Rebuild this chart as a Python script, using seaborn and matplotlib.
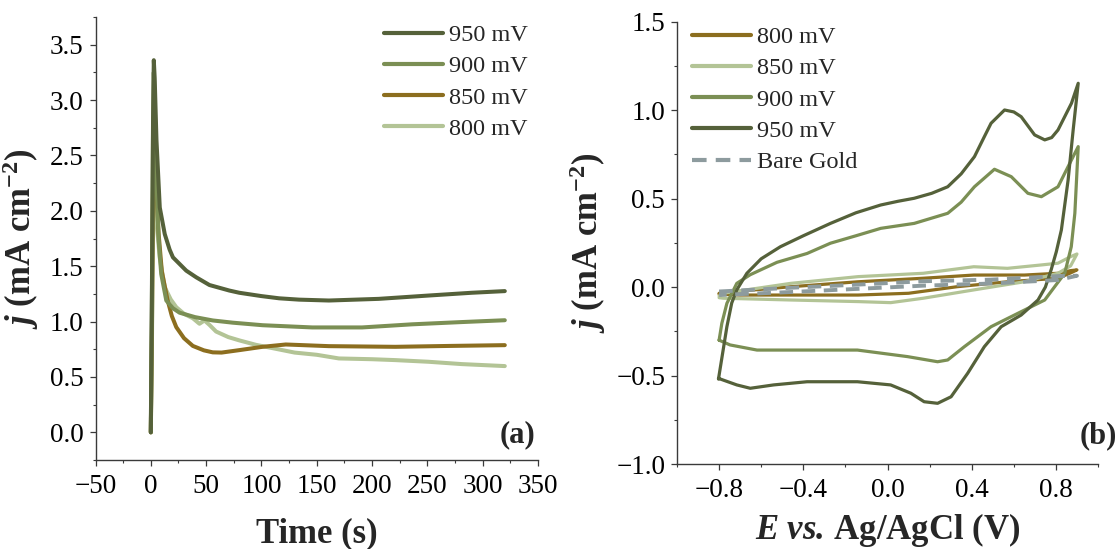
import numpy as np
import pandas as pd
import matplotlib
matplotlib.use("Agg")
import matplotlib.pyplot as plt
from matplotlib.ticker import MultipleLocator
import seaborn as sns

# ---------------- data: chronoamperometry (panel a) ----------------
t_950 = [0, 1.0, 2.0, 2.7, 3.5, 5.1, 8.1, 12.6, 17, 20, 32, 41, 53, 71, 80, 100, 116, 134, 161, 206, 251, 290, 320]
j_950 = [0.0, 1.3, 2.8, 3.36, 3.2, 2.64, 2.03, 1.79, 1.65, 1.58, 1.46, 1.40, 1.33, 1.28, 1.26, 1.23, 1.21, 1.198, 1.19, 1.205, 1.235, 1.26, 1.275]

t_900 = [0, 1, 2, 2.7, 3.5, 5, 7, 9.4, 14, 20, 26, 40, 56, 74, 101, 146, 191, 236, 280, 320]
j_900 = [0, 1.2, 2.7, 3.25, 3.0, 2.3, 1.75, 1.43, 1.19, 1.12, 1.08, 1.04, 1.01, 0.99, 0.967, 0.947, 0.947, 0.975, 0.995, 1.012]

t_850 = [0, 1, 2, 2.7, 3.5, 5, 7, 10, 15, 19, 23, 30, 38, 48, 56, 64, 80, 101, 122, 161, 221, 270, 320]
j_850 = [0, 0.9, 2.2, 2.85, 2.7, 2.2, 1.8, 1.45, 1.2, 1.05, 0.95, 0.85, 0.78, 0.74, 0.722, 0.72, 0.742, 0.772, 0.793, 0.778, 0.772, 0.78, 0.787]

t_800 = [0, 1, 2, 3, 4, 6, 8, 12.6, 18, 23, 30, 38, 44, 48.5, 53, 59, 70, 80, 95, 110, 130, 150, 170, 200, 221, 251, 281, 320]
j_800 = [0, 0.8, 1.8, 2.25, 2.1, 1.8, 1.58, 1.31, 1.2, 1.13, 1.07, 1.03, 0.98, 1.01, 0.97, 0.91, 0.86, 0.83, 0.79, 0.76, 0.72, 0.70, 0.667, 0.66, 0.652, 0.637, 0.616, 0.598]

ca_labels = ["800 mV", "850 mV", "900 mV", "950 mV"]

# ---------------- data: cyclic voltammetry (panel b) ----------------
E_cv800 = [-0.80, -0.73, -0.46, -0.14, 0.17, 0.41, 0.65, 0.81, 0.87, 0.90,
           0.87, 0.81, 0.57, 0.33, 0.10, -0.14, -0.46, -0.70, -0.80]
j_cv800 = [-0.035, -0.026, 0.002, 0.03, 0.05, 0.068, 0.068, 0.078, 0.093, 0.097,
           0.08, 0.05, 0.03, 0.002, -0.035, -0.045, -0.045, -0.045, -0.04]

E_cv850 = [-0.80, -0.78, -0.46, -0.14, 0.17, 0.41, 0.57, 0.73, 0.81, 0.87, 0.90,
           0.87, 0.81, 0.65, 0.41, 0.17, 0.015, -0.14, -0.46, -0.78, -0.80]
j_cv850 = [-0.05, -0.035, 0.021, 0.059, 0.078, 0.115, 0.106, 0.125, 0.135, 0.172, 0.187,
           0.12, 0.078, 0.03, -0.016, -0.063, -0.088, -0.082, -0.073, -0.063, -0.06]

E_cv900 = [-0.80, -0.787, -0.763, -0.716, -0.652, -0.525, -0.382, -0.271, -0.15, -0.032, 0.127, 0.286,
           0.35, 0.413, 0.508, 0.588, 0.667, 0.731, 0.81, 0.866, 0.906,
           0.89, 0.873, 0.842, 0.794, 0.747, 0.62, 0.492, 0.365, 0.286, 0.238, 0.095, -0.143,
           -0.382, -0.62, -0.748, -0.80]
j_cv900 = [-0.30, -0.205, -0.092, 0.021, 0.07, 0.14, 0.19, 0.248, 0.29, 0.332, 0.36, 0.417,
           0.48, 0.567, 0.666, 0.624, 0.53, 0.511, 0.567, 0.70, 0.794,
           0.417, 0.228, 0.078, 0.002, -0.073, -0.148, -0.224, -0.337, -0.412, -0.422, -0.393, -0.356,
           -0.356, -0.356, -0.327, -0.30]

E_cv950 = [-0.803, -0.78, -0.763, -0.74, -0.716, -0.668, -0.6, -0.509, -0.4, -0.271, -0.15, -0.032,
           0.05, 0.127, 0.21, 0.286, 0.35, 0.413, 0.46, 0.492, 0.556, 0.6, 0.635, 0.699, 0.747,
           0.78, 0.81, 0.874, 0.906,
           0.882, 0.858, 0.826, 0.802, 0.778, 0.75, 0.715, 0.635, 0.54, 0.46, 0.381, 0.302,
           0.238, 0.174, 0.111, 0.015, -0.143, -0.382, -0.541, -0.652, -0.716, -0.803]
j_cv950 = [-0.52, -0.35, -0.224, -0.09, -0.016, 0.078, 0.16, 0.228, 0.29, 0.36, 0.42, 0.464,
           0.485, 0.502, 0.53, 0.567, 0.64, 0.737, 0.85, 0.926, 1.001, 0.99, 0.963, 0.86, 0.832,
           0.845, 0.888, 1.039, 1.152,
           0.888, 0.605, 0.323, 0.2, 0.1, 0.0, -0.073, -0.158, -0.224, -0.337, -0.487, -0.62,
           -0.657, -0.648, -0.6, -0.553, -0.535, -0.535, -0.553, -0.572, -0.553, -0.516]

E_gold = [-0.80, -0.46, -0.14, 0.17, 0.49, 0.81, 0.90, 0.81, 0.49, 0.17, -0.14, -0.46, -0.80]
j_gold = [-0.025, -0.004, 0.014, 0.033, 0.042, 0.062, 0.064, 0.040, 0.020, 0.008, -0.010, -0.028, -0.045]

cv_labels = ["800 mV", "850 mV", "900 mV", "950 mV", "Bare Gold"]

# ---------------- colours ----------------
c950 = "#55613a"
c900 = "#7b8f54"
cbrown = "#8c6e1f"
clight = "#b3c496"
cgold = "#8d9b9e"

# ---------------- style ----------------
sns.set_theme(style="ticks")
plt.rcParams["font.family"] = ["Liberation Serif", "DejaVu Serif"]
plt.rcParams["mathtext.fontset"] = "custom"
plt.rcParams["mathtext.rm"] = "Liberation Serif"
plt.rcParams["mathtext.it"] = "Liberation Serif:italic"
plt.rcParams["mathtext.bf"] = "Liberation Serif:bold"
plt.rcParams["mathtext.bfit"] = "Liberation Serif:italic:bold"
plt.rcParams["axes.unicode_minus"] = True

fig = plt.figure(figsize=(11.2, 5.49), dpi=100)
ax1 = fig.add_axes([95.5 / 1120, 89 / 549, 442.5 / 1120, 443 / 549])
ax2 = fig.add_axes([677 / 1120, 85 / 549, 421 / 1120, 442.3 / 549])

# ---- panel a ----
ca_series = [(t_800, j_800, clight), (t_850, j_850, cbrown), (t_900, j_900, c900), (t_950, j_950, c950)]
for (tt, jj, col), lab in zip(ca_series, ca_labels):
    df = pd.DataFrame({"t": tt, "j": jj})
    sns.lineplot(data=df, x="t", y="j", ax=ax1, color=col, lw=2.9, label=lab,
                 sort=False, estimator=None, solid_capstyle="round", solid_joinstyle="round")

ax1.set_xlim(-50, 350)
ax1.set_ylim(-0.25, 3.75)
ax1.xaxis.set_major_locator(MultipleLocator(50))
ax1.xaxis.set_minor_locator(MultipleLocator(25))
ax1.yaxis.set_major_locator(MultipleLocator(0.5))
ax1.yaxis.set_minor_locator(MultipleLocator(0.25))
ax1.set_xlabel("Time (s)", fontsize=25, fontweight="bold", labelpad=13)
ax1.set_ylabel(r"$\mathbfit{j}$ (mA cm$^{\mathbf{-2}}$)", fontsize=25, fontweight="bold", labelpad=6)
h, l = ax1.get_legend_handles_labels()
leg1 = ax1.legend(h[::-1], l[::-1], loc="upper right", bbox_to_anchor=(0.978, 0.984),
                  frameon=False, fontsize=17.5, handlelength=2.45, handletextpad=0.25,
                  labelspacing=0.38, borderpad=0, borderaxespad=0)
for ln in leg1.get_lines():
    ln.set_linewidth(3.0)
ax1.text(0.995, 0.056, "(a)", transform=ax1.transAxes, ha="right", va="center",
         fontsize=22, fontweight="bold")

# ---- panel b ----
cv_series = [(E_cv800, j_cv800, cbrown), (E_cv850, j_cv850, clight),
             (E_cv900, j_cv900, c900), (E_cv950, j_cv950, c950)]
for (ee, jj, col), lab in zip(cv_series, cv_labels[:4]):
    df = pd.DataFrame({"E": ee, "j": jj})
    sns.lineplot(data=df, x="E", y="j", ax=ax2, color=col, lw=2.3, label=lab,
                 sort=False, estimator=None, solid_joinstyle="round")
dfg = pd.DataFrame({"E": E_gold, "j": j_gold})
sns.lineplot(data=dfg, x="E", y="j", ax=ax2, color=cgold, lw=2.8, label=cv_labels[4],
             sort=False, estimator=None, linestyle=(0, (3.5, 2.2)))

ax2.set_xlim(-1.0, 1.0)
ax2.set_ylim(-1.0, 1.5)
ax2.xaxis.set_minor_locator(MultipleLocator(0.2))
ax2.set_xticks([-0.8, -0.4, 0.0, 0.4, 0.8])
ax2.yaxis.set_major_locator(MultipleLocator(0.5))
ax2.yaxis.set_minor_locator(MultipleLocator(0.25))
ax2.set_xlabel(r"$\mathbfit{E\ vs.}\,$Ag/AgCl (V)", fontsize=25, fontweight="bold", labelpad=6)
ax2.set_ylabel(r"$\mathbfit{j}$ (mA cm$^{\mathbf{-2}}$)", fontsize=25, fontweight="bold", labelpad=6)
leg2 = ax2.legend(loc="upper left", bbox_to_anchor=(0.035, 0.99), frameon=False,
                  fontsize=17.5, handlelength=2.45, handletextpad=0.25,
                  labelspacing=0.38, borderpad=0, borderaxespad=0)
for ln in leg2.get_lines():
    ln.set_linewidth(3.0)
ax2.text(1.045, 0.063, "(b)", transform=ax2.transAxes, ha="right", va="center",
         fontsize=22, fontweight="bold")

for ax in (ax1, ax2):
    sns.despine(ax=ax)
    for sp in ("left", "bottom"):
        ax.spines[sp].set_color("#3a3a3a")
        ax.spines[sp].set_linewidth(1.0)
    ax.tick_params(which="major", direction="out", length=4, width=0.9, colors="#3a3a3a",
                   labelsize=19.5, labelcolor="black")
    ax.tick_params(axis="x", which="major", pad=6)
    ax.tick_params(axis="y", which="major", pad=4.5)
    ax.tick_params(which="minor", direction="out", length=2.4, width=0.8, colors="#3a3a3a")
    ax.grid(False)

fig.savefig("out.png", dpi=100)
